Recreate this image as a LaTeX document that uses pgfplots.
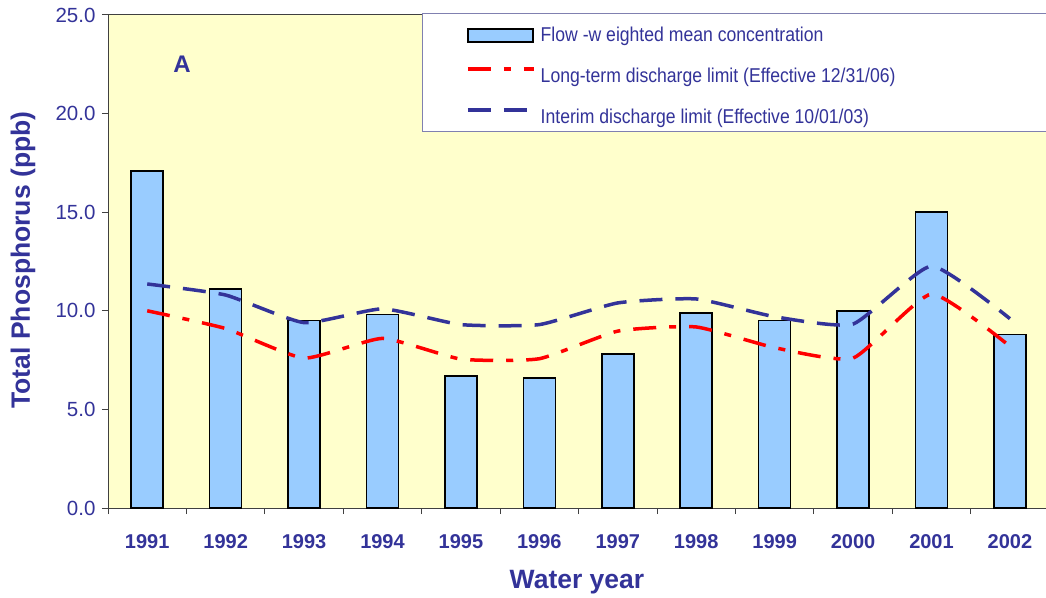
\documentclass[border=0pt]{standalone}
\usepackage{fontspec}
\setmainfont{Liberation Sans}
\newfontfamily\legfont[FakeStretch=0.88]{Liberation Sans}
\usepackage{pgfplots}
\pgfplotsset{compat=1.18}
\definecolor{tblue}{HTML}{333399}
\definecolor{barfill}{HTML}{99CCFF}
\definecolor{bgyellow}{HTML}{FFFFCC}
\definecolor{legborder}{HTML}{8080B0}
\definecolor{axgray}{HTML}{404040}

\begin{document}
\begin{tikzpicture}
\begin{axis}[
  at={(108bp,90bp)}, anchor=south west,
  scale only axis, width=938bp, height=493bp,
  xmin=-0.5, xmax=11.46, ymin=0, ymax=25,
  axis background/.style={fill=bgyellow},
  clip=false,
  axis line style={draw=axgray, line width=1bp},
  xtick={0,1,2,3,4,5,6,7,8,9,10,11},
  xticklabels={1991,1992,1993,1994,1995,1996,1997,1998,1999,2000,2001,2002},
  minor xtick={-0.5,0.5,1.5,2.5,3.5,4.5,5.5,6.5,7.5,8.5,9.5,10.5},
  ytick={0,5,10,15,20,25},
  tick pos=left,
  tick align=outside,
  major tick length=6bp, minor tick length=6bp,
  every major x tick/.style={draw=none},
  every minor x tick/.style={draw=axgray, line width=1bp},
  every major y tick/.style={draw=axgray, line width=1bp},
  xticklabel style={font=\bfseries\fontsize{20bp}{24bp}\selectfont, text=tblue, anchor=north, yshift=-17bp},
  yticklabel style={font=\fontsize{20.5bp}{24bp}\selectfont, text=tblue, anchor=east, xshift=-3bp,
    /pgf/number format/.cd, fixed, fixed zerofill, precision=1, assume math mode=true},
  xlabel={Water year},
  xlabel style={at={(axis description cs:0.5,-0.150)}, anchor=center,
    font=\bfseries\fontsize{26.5bp}{30bp}\selectfont, text=tblue},
  ylabel={Total Phosphorus (ppb)},
  ylabel style={at={(axis description cs:-0.0906,0.503)}, anchor=center,
    font=\bfseries\fontsize{26.5bp}{30bp}\selectfont, text=tblue},
  legend style={at={(rel axis cs:0.3817,0.9757)}, anchor=north west, draw=none, fill=none,
    inner sep=0pt, row sep=22bp, column sep=5bp,
    font=\legfont\fontsize{20bp}{24bp}\selectfont, text=tblue,
    nodes={inner sep=0pt, text height=14bp, text depth=4bp}},
  legend cell align=left,
]
\draw[legborder, fill=white, line width=1bp] (rel axis cs:0.3348,1.004) rectangle (rel axis cs:1.05,0.7627);

\addplot[ybar, bar width=32bp, fill=barfill, draw=black, line width=1.5bp,
  legend image code/.code={\draw[fill=barfill, draw=black, line width=1.5bp] (0bp,-6bp) rectangle (65bp,7bp);}]
  coordinates {(0,17.1) (1,11.1) (2,9.5) (3,9.8) (4,6.7) (5,6.6) (6,7.8) (7,9.9) (8,9.5) (9,10.0) (10,15.0) (11,8.8)};
\addlegendentry{Flow -w eighted mean concentration}

\addplot[draw=red, line width=3.5bp, smooth, tension=0.3, dash pattern=on 23bp off 13bp on 7bp off 13bp,
  legend image code/.code={\draw[draw=red, line width=3.5bp, dash pattern=on 23bp off 13bp on 7bp off 13bp] (0bp,8.5bp) -- (66bp,8.5bp);}]
  coordinates {(0,10.0) (1,9.1) (2,7.6) (3,8.6) (4,7.55) (5,7.57) (6,8.97) (7,9.18) (8,8.13) (9,7.6) (10,10.85) (11,8.2)};
\addlegendentry{Long-term discharge limit (Effective 12/31/06)}

\addplot[draw=tblue, line width=3.5bp, smooth, tension=0.3, dash pattern=on 23bp off 13bp,
  legend image code/.code={\draw[draw=tblue, line width=3.5bp, dash pattern=on 23bp off 13bp] (0bp,8.5bp) -- (66bp,8.5bp);}]
  coordinates {(0,11.36) (1,10.8) (2,9.4) (3,10.1) (4,9.3) (5,9.3) (6,10.4) (7,10.6) (8,9.7) (9,9.33) (10,12.27) (11,9.6)};
\addlegendentry{Interim discharge limit (Effective 10/01/03)}

\node[font=\bfseries\fontsize{24bp}{28bp}\selectfont, text=tblue] at (rel axis cs:0.0789,0.9006) {A};
\end{axis}
\pgfresetboundingbox
\useasboundingbox (0,0) rectangle (1046bp,598bp);
\end{tikzpicture}
\end{document}
